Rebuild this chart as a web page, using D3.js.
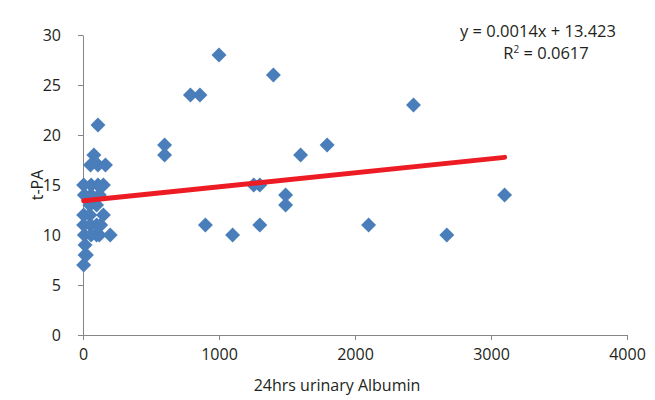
<!DOCTYPE html>
<html>
<head>
<meta charset="utf-8">
<script src="https://cdn.jsdelivr.net/npm/d3@7"></script>
<style>
  body { margin: 0; background: #fff; }
  text { font-family: "Open Sans", sans-serif; fill: #231f20; }
</style>
</head>
<body>
<div id="chart"></div>
<script>
// data: 24hrs urinary albumin vs t-PA
const albumin = [110, 80, 55, 110, 165, 5, 60, 110, 150, 10, 60, 120, 50, 100,
                 5, 50, 150, 5, 55, 100, 130, 10, 60, 100, 120, 200, 15, 15, 25, 5,
                 1000, 1400, 790, 860, 2430, 600, 600, 1600, 1795, 1255, 1300,
                 1490, 1490, 3100, 900, 1100, 1300, 2100, 2675];
const tpa = [21, 18, 17, 17, 17, 15, 15, 15, 15, 14, 14, 14, 13, 13,
             12, 12, 12, 11, 11, 11, 11, 10, 10, 10, 10, 10, 9, 8, 8, 7,
             28, 26, 24, 24, 23, 19, 18, 18, 19, 15, 15,
             14, 13, 14, 11, 10, 11, 11, 10];
const xTicks = [0, 1000, 2000, 3000, 4000];
const yTicks = [0, 5, 10, 15, 20, 25, 30];
// trendline as printed on chart
const slope = 0.0014, intercept = 13.423;
const eqText = "y = 0.0014x + 13.423";
const r2Text = " = 0.0617";

const width = 655, height = 400;
const margin = {top: 35, right: 28, bottom: 65, left: 83};

let svg = d3.select("#chart").append("svg")
    .attr("width", width)
    .attr("height", height);

let x = d3.scaleLinear().domain([0, 4000]).range([margin.left, width - margin.right]);
let y = d3.scaleLinear().domain([0, 30]).range([height - margin.bottom, margin.top]);

let axisColor = "#868686";

// x axis
let xAxis = svg.append("g")
    .attr("transform", `translate(0, ${y(0)})`)
    .call(d3.axisBottom(x).tickValues(xTicks).tickFormat(d3.format("d"))
        .tickSize(5).tickPadding(9).tickSizeOuter(0));
xAxis.select(".domain").attr("stroke", axisColor);
xAxis.selectAll(".tick line").attr("stroke", axisColor);
xAxis.selectAll("text").style("font-size", "16px").attr("fill", "#231f20");

// y axis
let yAxis = svg.append("g")
    .attr("transform", `translate(${x(0)}, 0)`)
    .call(d3.axisLeft(y).tickValues(yTicks).tickSize(5).tickPadding(17).tickSizeOuter(0));
yAxis.select(".domain").attr("stroke", axisColor);
yAxis.selectAll(".tick line").attr("stroke", axisColor);
yAxis.selectAll("text").style("font-size", "16px").attr("fill", "#231f20");

// points
let pts = albumin.map((d, i) => ({x: d, y: tpa[i]}));
let diamond = d3.symbol().type(d3.symbolSquare).size(112);
svg.append("g").selectAll("path")
    .data(pts)
    .enter()
    .append("path")
    .attr("d", diamond)
    .attr("transform", d => `translate(${x(d.x)}, ${y(d.y)}) rotate(45)`)
    .attr("fill", "#4a7ebb");

// trendline over data range
let ext = d3.extent(albumin);
svg.append("line")
    .attr("x1", x(ext[0])).attr("y1", y(slope * ext[0] + intercept))
    .attr("x2", x(ext[1])).attr("y2", y(slope * ext[1] + intercept))
    .attr("stroke", "#ed1c24")
    .attr("stroke-width", 5)
    .attr("stroke-linecap", "round");

// equation
svg.append("text")
    .attr("x", 538).attr("y", 37)
    .style("text-anchor", "middle")
    .style("font-size", "16.5px")
    .text(eqText);
let r2 = svg.append("text")
    .attr("x", 546).attr("y", 59)
    .style("text-anchor", "middle")
    .style("font-size", "16.5px");
r2.append("tspan").text("R");
r2.append("tspan").attr("dy", -6).style("font-size", "10px").text("2");
r2.append("tspan").attr("dy", 6).text(r2Text);

// axis titles
svg.append("text")
    .attr("x", 337).attr("y", 391)
    .style("text-anchor", "middle")
    .style("font-size", "16px")
    .text("24hrs urinary Albumin");

svg.append("text")
    .attr("transform", `translate(43, ${(y(0) + y(30)) / 2}) rotate(-90)`)
    .style("text-anchor", "middle")
    .style("font-size", "16px")
    .text("t-PA");
</script>
</body>
</html>
